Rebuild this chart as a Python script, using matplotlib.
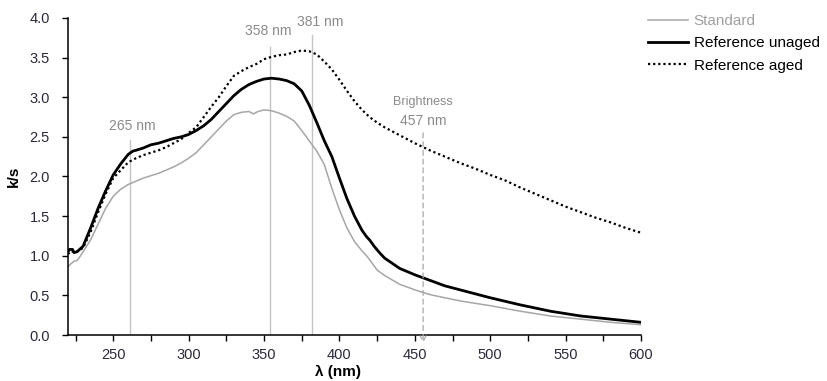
"""
Spectres k/s : standard, reference non vieillie et vieillie (220-600 nm).
"""
import numpy as np
import matplotlib
matplotlib.use("Agg")
import matplotlib.pyplot as plt

# longueurs d'onde (nm) et valeurs k/s
wl_std = [220, 222, 224, 226, 228, 230, 235, 240, 245, 250, 255, 260, 265, 270,
          275, 280, 285, 290, 295, 300, 305, 310, 315, 320, 325, 330, 335, 340,
          343, 346, 350, 355, 360, 365, 370, 375, 380, 385, 390, 395, 400, 405,
          410, 415, 418, 420, 425, 430, 440, 450, 460, 470, 480, 490, 500, 520,
          540, 560, 580, 600]
standard = [0.86, 0.90, 0.93, 0.94, 0.99, 1.05, 1.20, 1.40, 1.60, 1.75, 1.84,
            1.90, 1.94, 1.98, 2.01, 2.04, 2.08, 2.12, 2.17, 2.23, 2.30, 2.40,
            2.50, 2.60, 2.70, 2.78, 2.81, 2.82, 2.79, 2.82, 2.84, 2.83, 2.80,
            2.76, 2.70, 2.58, 2.45, 2.32, 2.15, 1.85, 1.58, 1.35, 1.18, 1.06,
            1.00, 0.95, 0.82, 0.75, 0.64, 0.57, 0.51, 0.47, 0.43, 0.40, 0.37,
            0.30, 0.24, 0.20, 0.16, 0.13]

wl_ref = [220, 221, 223, 224, 226, 230, 235, 240, 245, 250, 255, 260, 263, 265,
          270, 275, 280, 285, 290, 295, 300, 305, 310, 315, 320, 325, 330, 335,
          340, 345, 350, 355, 360, 365, 370, 375, 380, 385, 390, 395, 400, 405,
          410, 415, 418, 420, 423, 427, 430, 440, 450, 460, 470, 480, 490, 500,
          520, 540, 560, 580, 600]
unaged = [1.05, 1.08, 1.08, 1.04, 1.05, 1.12, 1.35, 1.60, 1.82, 2.02, 2.16,
          2.28, 2.32, 2.33, 2.36, 2.40, 2.42, 2.45, 2.48, 2.50, 2.53, 2.58,
          2.64, 2.72, 2.82, 2.92, 3.02, 3.10, 3.16, 3.20, 3.23, 3.24, 3.23,
          3.21, 3.17, 3.08, 2.90, 2.68, 2.45, 2.25, 1.98, 1.72, 1.50, 1.32,
          1.24, 1.20, 1.12, 1.03, 0.97, 0.84, 0.76, 0.69, 0.62, 0.57, 0.52,
          0.47, 0.38, 0.30, 0.24, 0.20, 0.16]

wl_aged = [220, 222, 225, 230, 235, 240, 245, 250, 255, 260, 265, 270, 275,
           280, 285, 290, 295, 300, 305, 310, 315, 320, 325, 330, 335, 340,
           345, 350, 355, 360, 365, 370, 375, 380, 385, 390, 395, 400, 405,
           410, 415, 420, 425, 430, 440, 450, 460, 470, 480, 490, 500, 510,
           520, 530, 540, 550, 560, 570, 580, 590, 600]
aged = [1.02, 1.06, 1.04, 1.10, 1.30, 1.55, 1.78, 1.98, 2.08, 2.18, 2.23,
        2.27, 2.30, 2.33, 2.37, 2.42, 2.47, 2.55, 2.62, 2.75, 2.88, 3.00,
        3.14, 3.27, 3.33, 3.38, 3.42, 3.48, 3.51, 3.53, 3.54, 3.57, 3.59,
        3.58, 3.54, 3.45, 3.35, 3.22, 3.08, 2.95, 2.84, 2.75, 2.68, 2.62,
        2.52, 2.42, 2.33, 2.25, 2.17, 2.10, 2.02, 1.95, 1.86, 1.78, 1.70,
        1.62, 1.55, 1.48, 1.42, 1.35, 1.29]

# reperes verticaux : position (nm), hauteur (k/s), texte
mark_x = [261, 354, 382]
mark_top = [2.46, 3.63, 3.78]
mark_lbl = ["265 nm", "358 nm", "381 nm"]
mark_lbl_x = [262.5, 352.5, 387]
mark_lbl_y = [2.64, 3.83, 3.95]
bright_x = 455.5

plt.rcParams["font.family"] = ["Liberation Sans", "DejaVu Sans"]
GREY_TXT = "#8a8a8a"
GREY_LN = "#c4c4c4"

fig = plt.figure(figsize=(8.27, 3.81), dpi=100)
ax = fig.add_axes([0.0822, 0.1207, 0.6929, 0.8321])

for x, top in zip(mark_x, mark_top):
    ax.plot([x, x], [0, top], color=GREY_LN, lw=1.0, zorder=1)
for lx, ly, t in zip(mark_lbl_x, mark_lbl_y, mark_lbl):
    ax.text(lx, ly, t, color=GREY_TXT, fontsize=10, ha="center", va="center")

ax.annotate("", xy=(bright_x, -0.1), xytext=(bright_x, 2.55),
            arrowprops=dict(arrowstyle="->", ls=(0, (4, 3)), color="#a8a8a8",
                            lw=0.9, shrinkA=0, shrinkB=0),
            annotation_clip=False)
ax.text(bright_x, 2.94, "Brightness", color=GREY_TXT, fontsize=9, ha="center", va="center")
ax.text(bright_x, 2.70, "457 nm", color=GREY_TXT, fontsize=10, ha="center", va="center")

l1, = ax.plot(wl_std, standard, color="#a6a6a6", lw=1.1, label="Standard")
l2, = ax.plot(wl_ref, unaged, color="black", lw=2.0, label="Reference unaged")
l3, = ax.plot(wl_aged, aged, color="black", lw=1.6, ls=(0, (1, 1.3)),
              label="Reference aged")

ax.set_xlim(220, 600)
ax.set_ylim(0, 4.0)
ax.set_xticks(np.arange(250, 601, 50))
ax.set_xticks(np.arange(225, 601, 25), minor=True)
ax.set_yticks(np.arange(0, 4.01, 0.5))
ax.yaxis.set_major_formatter(matplotlib.ticker.FormatStrFormatter("%.1f"))
ax.tick_params(which="both", direction="out", length=4, width=1.0,
               labelsize=10.5, labelcolor="#2a2a3a")
ax.tick_params(axis="y", pad=9)
ax.tick_params(axis="x", pad=5)
for s in ["top", "right"]:
    ax.spines[s].set_visible(False)
for s in ["left", "bottom"]:
    ax.spines[s].set_linewidth(1.1)

ax.set_ylabel("k/s", fontsize=11, fontweight="bold", labelpad=6)
ax.set_xlabel("λ (nm)", fontsize=11, fontweight="bold", va="top")
ax.xaxis.set_label_coords((338 - 68) / 573, -0.095)

leg = fig.legend(handles=[l1, l2, l3], loc="upper left",
                 bbox_to_anchor=(648 / 827, 1 - 14 / 381), frameon=False,
                 fontsize=11, handlelength=2.6, handletextpad=0.4,
                 labelspacing=0.55, borderpad=0, borderaxespad=0)
leg.get_texts()[0].set_color("#a0a0a0")

fig.savefig("out.png", dpi=100)
